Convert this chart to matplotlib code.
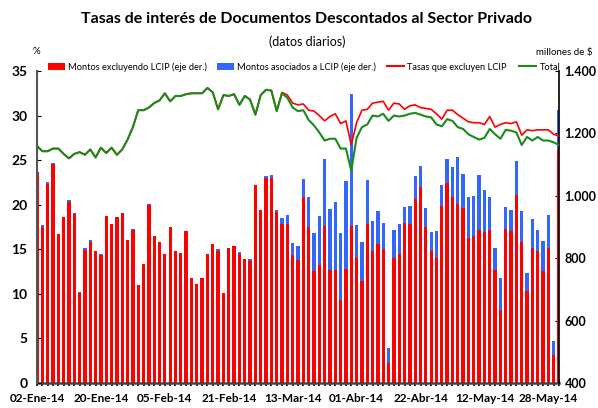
import numpy as np
import matplotlib
matplotlib.use("Agg")
import matplotlib.pyplot as plt
from matplotlib.patches import Patch
from matplotlib.lines import Line2D

plt.rcParams['font.family'] = ['Lato', 'DejaVu Sans']

# ---- data ----
tick_labels = ["02-Ene-14", "20-Ene-14", "05-Feb-14", "21-Feb-14", "13-Mar-14",
               "01-Abr-14", "22-Abr-14", "12-May-14", "28-May-14"]

# Montos excluyendo LCIP (millones de $)
montos_excl = [
    1077, 901, 1038, 1101, 877, 931, 981, 941, 688, 827,
    852, 823, 809, 934, 911, 931, 946, 857, 889, 714,
    783, 969, 871, 851, 814, 900, 823, 817, 886, 737,
    717, 737, 814, 846, 824, 689, 834, 840, 815, 797,
    792, 1034, 954, 1057, 1057, 949, 911, 909, 809, 794,
    997, 900, 760, 777, 903, 763, 763, 666, 766, 903,
    800, 726, 909, 823, 846, 829, 463, 800, 814, 914,
    909, 989, 1029, 900, 823, 800, 966, 1040, 997, 974,
    960, 866, 871, 891, 883, 891, 763, 634, 894, 886,
    1003, 851, 694, 834, 823, 760, 834, 489, 1146]

# Montos asociados a LCIP (millones de $)
montos_lcip = [
    0, 5, 5, 5, 0, 0, 5, 5, 4, 5,
    5, 0, 5, 0, 0, 0, 0, 0, 5, 0,
    0, 5, 0, 0, 0, 0, 0, 0, 0, 0,
    0, 0, 0, 0, 5, 0, 0, 0, 5, 0,
    5, 0, 0, 6, 9, 5, 18, 28, 40, 46,
    57, 97, 120, 157, 214, 194, 217, 214, 280, 423,
    106, 125, 142, 97, 105, 85, 48, 91, 95, 49,
    57, 74, 68, 60, 60, 86, 68, 77, 94, 149,
    109, 131, 129, 175, 137, 106, 71, 103, 69, 68,
    108, 100, 60, 92, 68, 94, 106, 45, 128]

# Tasas que excluyen LCIP (%)
tasa_excl = [
    26.6, 26.0, 26.0, 26.3, 26.3, 25.7, 25.2, 25.7, 25.9, 25.6,
    26.2, 25.3, 26.4, 25.8, 26.4, 25.6, 26.2, 27.3, 28.7, 30.6,
    30.6, 30.9, 31.4, 31.7, 32.5, 31.6, 32.2, 32.2, 32.4, 32.5,
    32.5, 32.5, 33.1, 32.6, 30.7, 32.3, 32.2, 32.4, 31.2, 32.2,
    31.8, 30.1, 32.3, 32.9, 32.8, 30.5, 32.6, 32.3, 31.4, 31.2,
    31.3, 30.6, 30.5, 30.0, 29.4, 29.9, 30.2, 29.1, 29.4, 26.7,
    29.2, 30.6, 30.7, 31.4, 31.5, 31.6, 30.6, 31.4, 31.3, 30.7,
    31.1, 31.2, 30.9, 30.8, 30.7, 30.2, 29.6, 30.6, 30.6, 30.1,
    29.7, 29.3, 29.2, 29.2, 29.0, 29.9, 28.7, 29.0, 29.2, 29.1,
    29.3, 27.8, 28.4, 28.3, 28.4, 28.4, 28.4, 27.9, 27.7]

# Total (%)
tasa_total = [
    26.6, 26.0, 26.0, 26.3, 26.3, 25.7, 25.2, 25.7, 25.9, 25.6,
    26.2, 25.3, 26.4, 25.8, 26.4, 25.6, 26.2, 27.3, 28.7, 30.6,
    30.6, 30.9, 31.4, 31.7, 32.5, 31.6, 32.2, 32.2, 32.4, 32.5,
    32.5, 32.5, 33.1, 32.6, 30.7, 32.3, 32.2, 32.4, 31.2, 32.2,
    31.8, 30.1, 32.3, 32.9, 32.8, 30.5, 32.5, 32.0, 30.9, 30.5,
    30.6, 29.5, 28.9, 28.1, 27.2, 27.4, 27.4, 26.3, 26.3, 23.8,
    27.5, 28.7, 29.0, 30.0, 29.9, 30.2, 29.4, 30.0, 29.9, 30.0,
    30.2, 30.3, 30.1, 29.9, 29.8, 29.0, 28.8, 29.6, 29.4, 28.7,
    28.5, 27.9, 27.6, 27.3, 27.5, 28.5, 27.9, 27.4, 28.4, 28.3,
    28.1, 26.7, 27.6, 27.2, 27.6, 27.2, 27.2, 27.0, 26.7]

RED = "#FF0000"
BLUE = "#3366FF"
GREEN = "#1A8A1A"

n = len(montos_excl)
x = np.arange(n)

W, H = 598, 408
fig = plt.figure(figsize=(W / 100, H / 100), dpi=100)
L, R, B, T = 37, 559, 383, 71
ax1 = fig.add_axes([L / W, 1 - B / H, (R - L) / W, (B - T) / H])

ax1.bar(x, montos_excl, width=0.62, color=RED, zorder=2)
ax1.bar(x, montos_lcip, width=0.62, bottom=montos_excl, color=BLUE, zorder=2)
ax1.set_ylim(400, 1400)
ax1.set_xlim(0, n - 1)

ax1.set_xticks(x[::12])
ax1.set_xticklabels(tick_labels, fontweight="bold", fontsize=8.5)
ax1.set_xticks(x, minor=True)
ax1.tick_params(axis='x', which='both', direction='inout', length=4, width=1.2, pad=5)

ax2 = ax1.twinx()
ax2.plot(x, tasa_excl, color=RED, lw=1.2, zorder=3)
ax2.plot(x, tasa_total, color=GREEN, lw=1.5, zorder=4)
ax2.set_ylim(0, 35)
ax2.set_yticks(np.arange(0, 36, 5))
ax2.set_yticklabels([str(v) for v in range(0, 36, 5)], fontweight="bold", fontsize=10)

# swap sides: rates on the left, amounts on the right
ax2.yaxis.tick_left()
ax2.tick_params(axis='y', direction='in', length=3, pad=7)
ax1.yaxis.tick_right()
ax1.set_yticks([400, 600, 800, 1000, 1200, 1400])
ax1.set_yticklabels(["400", "600", "800", "1.000", "1.200", "1.400"],
                    fontweight="bold", fontsize=9)
ax1.tick_params(axis='y', direction='in', length=3, pad=4, colors='black')

for a in (ax1, ax2):
    a.spines['top'].set_visible(False)
    a.patch.set_visible(False)
ax1.spines['left'].set_visible(False)
ax1.spines['right'].set_visible(False)
ax1.spines['bottom'].set_color('#444444')
ax1.spines['bottom'].set_linewidth(1.8)
ax2.spines['bottom'].set_visible(False)
ax2.spines['left'].set_color('#555555')
ax2.spines['left'].set_linewidth(1.5)
ax2.spines['right'].set_color('black')
ax2.spines['right'].set_linewidth(1.2)

fig.text(0.513, 1 - 19 / H, "Tasas de interés de Documentos Descontados al Sector Privado",
         ha="center", va="center", fontweight="bold", fontsize=11.5)
fig.text(0.513, 1 - 42 / H, "(datos diarios)", ha="center", va="center", fontsize=9)
fig.text(36 / W, 1 - 52 / H, "%", ha="center", va="center", fontsize=7)
fig.text(592 / W, 1 - 52 / H, "millones de $", ha="right", va="center", fontsize=7)

handles = [Patch(facecolor=RED), Patch(facecolor=BLUE),
           Line2D([], [], color=RED, lw=1.5), Line2D([], [], color=GREEN, lw=1.5)]
labels = ["Montos excluyendo LCIP (eje der.)", "Montos asociados a LCIP (eje der.)",
          "Tasas que excluyen LCIP", "Total"]
starts = [48, 217, 387, 519]
for h, lab, sx in zip(handles, labels, starts):
    fig.legend([h], [lab], frameon=False, fontsize=6.7,
               loc="center left", bbox_to_anchor=(sx / W, 1 - 67 / H),
               handlelength=1.8, handleheight=0.9, handletextpad=0.4,
               borderaxespad=0, borderpad=0)

fig.savefig("out.png", dpi=100)
